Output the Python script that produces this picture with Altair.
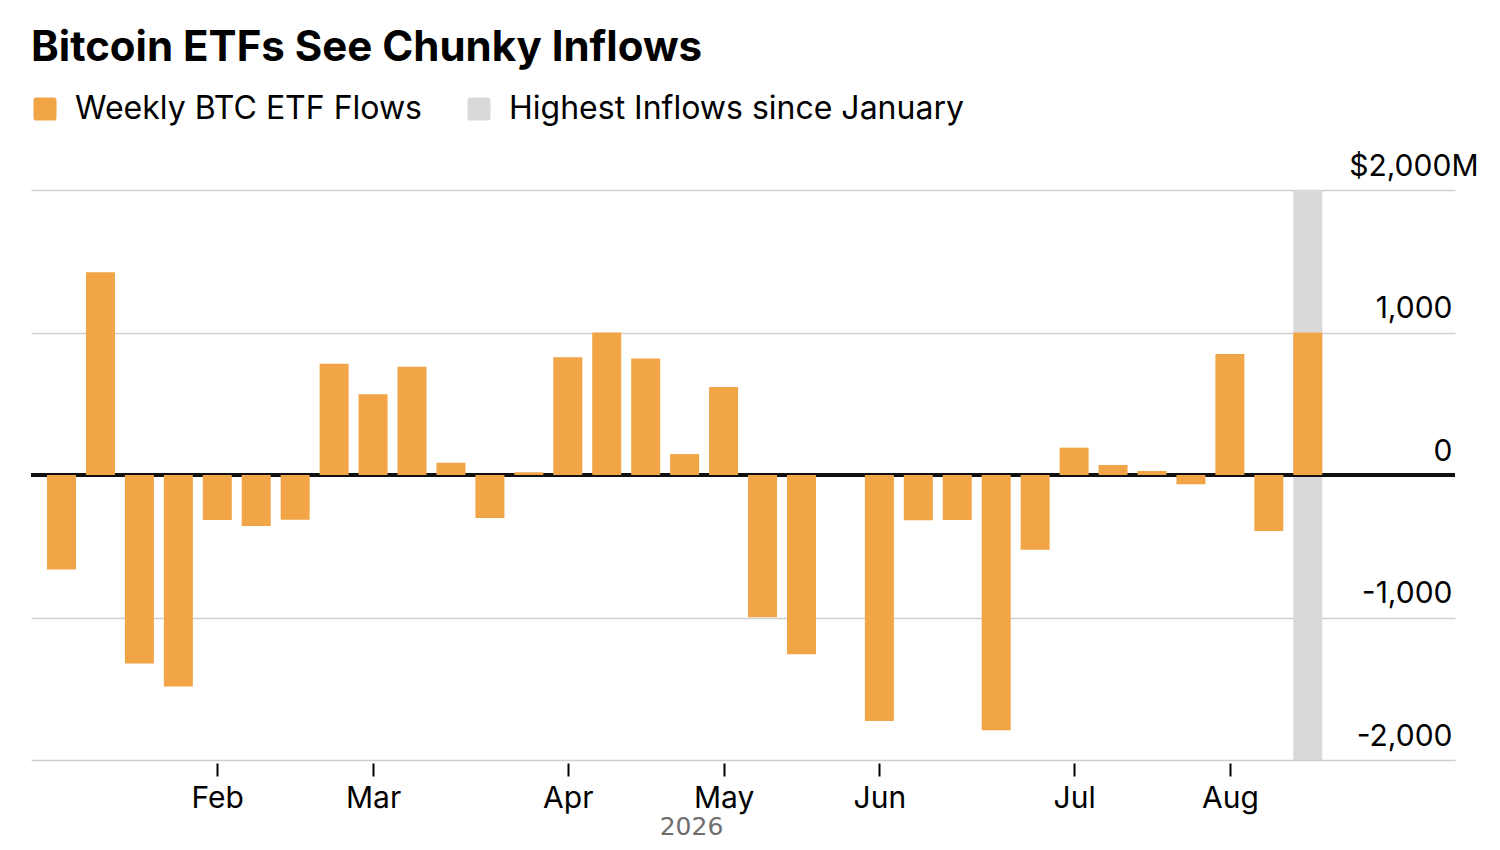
import altair as alt
import pandas as pd

# ---- data ----
weeks = list(range(33))
flows = [-664, 1422, -1322, -1485, -316, -358, -314, 781, 566, 760, 86, -302,
         20, 826, 1000, 818, 147, 618, -998, -1258, 0, -1726, -318, -316,
         -1792, -525, 192, 70, 28, -65, 849, -393, 1000]
highlight_weeks = [32]
month_ticks = [4, 8, 13, 17, 21, 26, 30]
month_labels = ["Feb", "Mar", "Apr", "May", "Jun", "Jul", "Aug"]
y_ticks = [-2000, -1000, 0, 1000, 2000]
series_names = ["Weekly BTC ETF Flows", "Highest Inflows since January"]
year_label = "2026"

ORANGE = "#F2A547"
GRAY = "#D9D9D9"
FONT = "Inter"

df = pd.DataFrame({"week": weeks, "flow": flows, "series": series_names[0]})
hl = pd.DataFrame({
    "week": highlight_weeks,
    "top": [y_ticks[-1]] * len(highlight_weeks),
    "bottom": [y_ticks[0]] * len(highlight_weeks),
    "series": series_names[1],
})

labels_js = "[" + ",".join(f"'{m}'" for m in month_labels) + "]"
ticks_js = "[" + ",".join(str(t) for t in month_ticks) + "]"

x_enc = alt.X(
    "week:Q",
    scale=alt.Scale(domain=[-0.783, 35.78], nice=False, zero=False, padding=0),
    axis=alt.Axis(
        values=month_ticks,
        labelExpr=f"{labels_js}[indexof({ticks_js}, datum.value)]",
        grid=False, domain=False,
        ticks=True, tickColor="black", tickSize=13, tickWidth=2,
        offset=3,
        labelFont=FONT, labelFontSize=30, labelColor="black", labelPadding=7,
        labelFlush=False, labelOverlap=False,
        title=year_label, titleFont="DejaVu Sans", titleFontSize=25,
        titleFontWeight="normal", titleColor="#6e6e6e",
        titleX=660, titleY=71, titleAlign="center", titleBaseline="alphabetic",
    ),
)

y_axis = alt.Axis(
    orient="right", values=y_ticks, title=None,
    grid=True, gridColor="#CFCFCF", gridWidth=1.5,
    domain=False, ticks=False,
    labelFont=FONT, labelFontSize=30, labelColor="black",
    labelAlign="right", labelBaseline="alphabetic", labelOffset=-15,
    labelPadding={"condition": {"test": "datum.value == 2000", "value": 23}, "value": -3},
    labelExpr="datum.value == 2000 ? '$2,000M' : (datum.value < 0 ? '-' : '') + format(abs(datum.value), ',')",
    labelFlush=False, labelOverlap=False,
)
y_scale = alt.Scale(domain=[y_ticks[0], y_ticks[-1]], nice=False, padding=0)

rounded_square = ("M-1,-0.75 Q-1,-1 -0.75,-1 L0.75,-1 Q1,-1 1,-0.75 L1,0.75 "
                  "Q1,1 0.75,1 L-0.75,1 Q-1,1 -1,0.75 Z")

color_enc = alt.Color(
    "series:N",
    scale=alt.Scale(domain=series_names, range=[ORANGE, GRAY]),
    legend=alt.Legend(
        orient="none", legendX=-2, legendY=-97, direction="horizontal",
        title=None, symbolType=rounded_square, symbolSize=529,
        symbolStrokeWidth=0, symbolOpacity=1,
        labelFont=FONT, labelFontSize=32, labelColor="black",
        labelOffset=14, columnPadding=41, labelLimit=600,
    ),
)

band = alt.Chart(hl).mark_bar(width=29).encode(
    x=x_enc,
    y=alt.Y("top:Q", scale=y_scale, axis=y_axis),
    y2="bottom:Q",
    color=color_enc,
)

zero_rule = alt.Chart(df).mark_rule(color="#111111", strokeWidth=2.5).encode(
    y=alt.datum(0, scale=y_scale, axis=y_axis),
)

bars = alt.Chart(df).mark_bar(width=29).encode(
    x=x_enc,
    y=alt.Y("flow:Q", scale=y_scale, axis=y_axis),
    color=color_enc,
)

chart = alt.layer(band, zero_rule, bars).properties(
    width=1424, height=570,
    autosize=alt.AutoSizeParams(type="none"),
    padding={"left": 23, "top": 182, "right": 35, "bottom": 80},
    background="white",
    title=alt.TitleParams(
        "Bitcoin ETFs See Chunky Inflows", anchor="start", frame="group",
        font=FONT, fontSize=42, fontWeight="bold", color="black",
        baseline="alphabetic", offset=-10,
    ),
).configure_view(stroke=None)

chart.save("out.html", embed_options={"renderer": "svg", "actions": False})
